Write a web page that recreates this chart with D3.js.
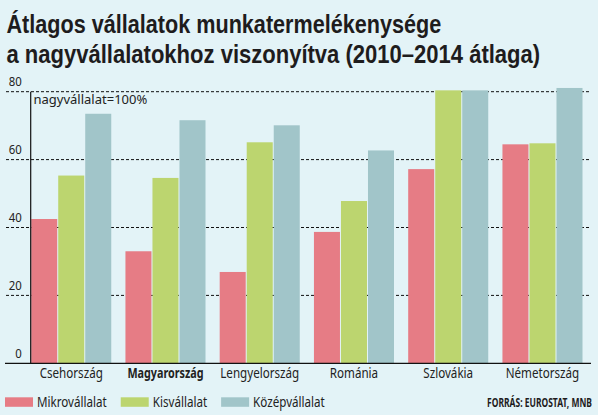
<!DOCTYPE html>
<html><head><meta charset="utf-8">
<script src="https://cdn.jsdelivr.net/npm/d3@7"></script>
<style>body{margin:0;background:#e3f3f7;}svg{display:block;}</style>
</head><body>
<svg id="chart" width="598" height="415"></svg>
<script>
const categories = ["Csehország","Magyarország","Lengyelország","Románia","Szlovákia","Németország"];
const seriesNames = ["Mikrovállalat","Kisvállalat","Középvállalat"];
const mikro = [42.5, 33.0, 26.9, 38.7, 57.2, 64.5];
const kis   = [55.3, 54.6, 65.1, 47.8, 80.4, 64.8];
const kozep = [73.5, 71.6, 70.1, 62.7, 80.4, 81.1];
const yTicks = [0, 20, 40, 60, 80];
const highlighted = "Magyarország";
const titleLines = ["Átlagos vállalatok munkatermelékenysége","a nagyvállalatokhoz viszonyítva (2010–2014 átlaga)"];
const note = "nagyvállalat=100%";
const source = "FORRÁS: EUROSTAT, MNB";

const seriesValues = [mikro, kis, kozep];
const colors = ["#e67c85","#bcd56f","#a1c5c9"];
const FONT = "'Noto Sans', 'Open Sans', sans-serif";
const TFONT = "'Liberation Sans', Arial, sans-serif";
const svg = d3.select("#chart");
svg.append("rect").attr("width",598).attr("height",415).attr("fill","#e3f3f7");

const x0 = d3.scaleBand().domain(categories).range([30.7, 583]).paddingInner(0.14).paddingOuter(0);
const x1 = d3.scaleBand().domain(seriesNames).range([0, x0.bandwidth()]);
const y = d3.scaleLinear().domain([0, 80]).range([363.3, 91.7]);
const color = d3.scaleOrdinal().domain(seriesNames).range(colors);

function ctext(parent, x, yy, txt, k, anchor){
  return parent.append("text")
    .attr("transform", `translate(${x},${yy}) scale(${k},1)`)
    .attr("text-anchor", anchor || "start")
    .attr("font-family", FONT)
    .text(txt);
}

// title (condensed to the reference widths)
const titleWidths = [435, 534];
titleLines.forEach((t,i)=>{
  const el = svg.append("text")
    .attr("font-family", TFONT).attr("font-weight",700).attr("font-size",25)
    .attr("fill","#1e1c1d").text(t);
  const k = titleWidths[i] / el.node().getComputedTextLength();
  el.attr("transform", `translate(6.5,${33.3 + i*29.4}) scale(${k},1)`);
});

// gridlines
const grid = svg.append("g");
yTicks.filter(d=>d>0).forEach(d=>{
  grid.append("line").attr("x1",6).attr("x2",591).attr("y1",y(d)).attr("y2",y(d))
    .attr("stroke","#111").attr("stroke-width",1).attr("stroke-dasharray","3,2");
});
// tick labels
yTicks.forEach(d=>{
  ctext(svg, 21.8, y(d)-5.5, d, 0.95, "end").attr("font-size",12).attr("fill","#222");
});

// bars
const groups = svg.append("g").selectAll("g").data(categories).join("g")
  .attr("transform", d=>`translate(${x0(d)},0)`);
groups.selectAll("rect").data((c,ci)=>seriesNames.map((s,si)=>({s, v: seriesValues[si][ci]})))
  .join("rect")
  .attr("x", d=>x1(d.s)+0.5)
  .attr("width", x1.bandwidth()-1)
  .attr("y", d=>y(d.v))
  .attr("height", d=>y(0)-y(d.v))
  .attr("fill", d=>color(d.s));

// axes lines
svg.append("line").attr("x1",30.7).attr("x2",30.7).attr("y1",y(80)).attr("y2",y(0))
  .attr("stroke","#111").attr("stroke-width",1.2);
svg.append("line").attr("x1",5).attr("x2",591).attr("y1",y(0)).attr("y2",y(0))
  .attr("stroke","#111").attr("stroke-width",1.3);

// note
svg.append("text").attr("x",33.5).attr("y",104).attr("font-family",FONT).attr("font-size",13)
  .attr("fill","#222").text(note);

// category labels
categories.forEach(c=>{
  const bold = c===highlighted;
  ctext(svg, x0(c)+x0.bandwidth()/2, 378.3, c, bold?0.77:0.83, "middle")
    .attr("font-size",14).attr("font-weight", bold?700:400).attr("fill","#222");
});

// legend
let lx = 5;
seriesNames.forEach(s=>{
  svg.append("rect").attr("x",lx).attr("y",397.3).attr("width",28).attr("height",9.5).attr("fill",color(s));
  const t = ctext(svg, lx+32, 406.6, s, 0.83).attr("font-size",14).attr("fill","#222");
  const w = t.node().getComputedTextLength()*0.83;
  lx = lx + 32 + w + 14;
});

// source
ctext(svg, 592, 407.3, source, 0.68, "end").attr("font-size",12.5).attr("font-weight",700).attr("fill","#1e1c1d");
</script>
</body></html>
